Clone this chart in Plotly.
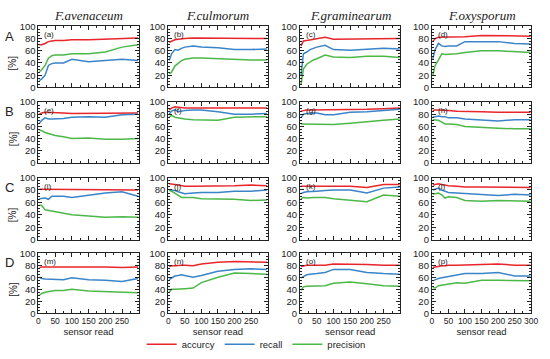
import plotly.graph_objects as go

W, H = 550, 359

sensor_read = [3, 10, 20, 30, 40, 50, 75, 100, 150, 200, 250, 298]

species = ["F.avenaceum", "F.culmorum", "F.graminearum", "F.oxysporum"]
row_labels = ["A", "B", "C", "D"]
panel_labels = ["(a)", "(b)", "(c)", "(d)", "(e)", "(f)", "(g)", "(h)",
                "(i)", "(j)", "(k)", "(l)", "(m)", "(n)", "(o)", "(p)"]
x_ticks = [0, 50, 100, 150, 200, 250]
x_ticks_last = [0, 50, 100, 150, 200, 250, 300]
y_ticks = [0, 20, 40, 60, 80, 100]

# accuracy / recall / precision per panel (a..p)
accuracy_a = [70, 70, 72, 75, 76, 77, 77, 78, 78, 79, 81, 81]
recall_a = [11, 14, 20, 36, 39, 40, 40, 46, 42, 44, 46, 44]
precision_a = [26, 29, 36, 48, 52, 53, 53, 55, 55, 58, 66, 70]

accuracy_b = [74, 76, 78, 79, 80, 80, 81, 81, 81, 80, 80, 80]
recall_b = [44, 55, 62, 61, 64, 66, 68, 66, 65, 62, 62, 63]
precision_b = [22, 25, 35, 40, 44, 46, 48, 48, 47, 45, 45, 45]

accuracy_c = [68, 76, 77, 78, 79, 80, 82, 79, 79, 79, 80, 80]
recall_c = [20, 55, 58, 62, 64, 66, 69, 62, 61, 62, 64, 63]
precision_c = [5, 30, 38, 42, 45, 47, 53, 50, 49, 51, 51, 49]

accuracy_d = [75, 80, 82, 82, 83, 83, 83, 83, 85, 85, 84, 84]
recall_d = [47, 62, 72, 68, 67, 68, 68, 75, 75, 75, 72, 71]
precision_d = [20, 36, 45, 55, 54, 54, 55, 57, 60, 60, 59, 57]

accuracy_e = [80, 82, 83, 83, 82, 82, 82, 81, 81, 82, 82, 82]
recall_e = [65, 70, 74, 72, 72, 72, 73, 75, 76, 75, 79, 80]
precision_e = [54, 53, 50, 48, 47, 45, 43, 40, 41, 39, 39, 40]

accuracy_f = [87, 90, 92, 91, 90, 90, 90, 90, 90, 90, 90, 90]
recall_f = [80, 85, 87, 84, 85, 86, 87, 87, 84, 80, 80, 81]
precision_f = [75, 78, 75, 74, 73, 72, 71, 71, 70, 75, 76, 76]

accuracy_g = [85, 86, 87, 87, 87, 87, 87, 87, 88, 88, 89, 90]
recall_g = [74, 80, 81, 82, 82, 82, 79, 79, 83, 84, 86, 88]
precision_g = [64, 64, 63, 64, 63, 63, 63, 63, 65, 68, 70, 72]

accuracy_h = [86, 87, 87, 87, 86, 86, 85, 85, 84, 83, 83, 83]
recall_h = [75, 76, 77, 76, 76, 74, 74, 72, 70, 69, 71, 71]
precision_h = [71, 71, 70, 67, 64, 64, 63, 60, 58, 57, 56, 56]

accuracy_i = [81, 81, 81, 81, 81, 81, 81, 81, 81, 81, 81, 80]
recall_i = [66, 66, 67, 65, 70, 70, 70, 68, 72, 75, 77, 70]
precision_i = [56, 55, 48, 47, 45, 44, 42, 40, 38, 36, 37, 36]

accuracy_j = [90, 90, 89, 88, 87, 86, 86, 86, 87, 87, 88, 87]
recall_j = [80, 80, 79, 77, 75, 74, 75, 76, 76, 78, 78, 80]
precision_j = [79, 78, 75, 71, 68, 68, 68, 66, 66, 65, 63, 64]

accuracy_k = [86, 86, 87, 87, 87, 87, 87, 87, 86, 84, 89, 89]
recall_k = [74, 76, 77, 77, 77, 78, 79, 80, 80, 75, 83, 85]
precision_k = [66, 68, 67, 68, 68, 68, 68, 66, 63, 61, 72, 70]

accuracy_l = [88, 89, 90, 89, 88, 87, 86, 85, 85, 85, 85, 84]
recall_l = [80, 81, 83, 80, 78, 76, 75, 74, 72, 71, 73, 72]
precision_l = [73, 74, 75, 72, 67, 69, 68, 63, 62, 63, 63, 62]

accuracy_m = [76, 77, 77, 77, 77, 77, 77, 78, 77, 77, 76, 77]
recall_m = [60, 58, 57, 57, 57, 57, 56, 59, 56, 55, 53, 58]
precision_m = [30, 33, 35, 36, 37, 38, 38, 40, 37, 36, 34, 34]

accuracy_n = [78, 79, 79, 80, 80, 80, 79, 82, 85, 86, 86, 85]
recall_n = [56, 58, 62, 63, 64, 63, 60, 63, 70, 73, 74, 73]
precision_n = [35, 40, 40, 40, 40, 41, 42, 51, 60, 67, 66, 65]

accuracy_o = [78, 79, 80, 80, 80, 80, 80, 82, 82, 81, 80, 80]
recall_o = [59, 61, 64, 65, 66, 66, 68, 73, 73, 68, 66, 65]
precision_o = [38, 44, 45, 45, 45, 45, 46, 50, 52, 49, 46, 45]

accuracy_p = [76, 77, 78, 79, 79, 80, 80, 80, 81, 82, 80, 80]
recall_p = [54, 56, 58, 59, 60, 61, 64, 66, 66, 68, 62, 62]
precision_p = [43, 42, 46, 47, 48, 49, 51, 50, 55, 55, 55, 54]

accuracy = [accuracy_a, accuracy_b, accuracy_c, accuracy_d, accuracy_e, accuracy_f,
            accuracy_g, accuracy_h, accuracy_i, accuracy_j, accuracy_k, accuracy_l,
            accuracy_m, accuracy_n, accuracy_o, accuracy_p]
recall = [recall_a, recall_b, recall_c, recall_d, recall_e, recall_f, recall_g,
          recall_h, recall_i, recall_j, recall_k, recall_l, recall_m, recall_n,
          recall_o, recall_p]
precision = [precision_a, precision_b, precision_c, precision_d, precision_e,
             precision_f, precision_g, precision_h, precision_i, precision_j,
             precision_k, precision_l, precision_m, precision_n, precision_o,
             precision_p]

series_names = ["accurcy", "recall", "precision"]
colors = ["#e8262b", "#3a84c9", "#4cb848"]

# layout geometry (pixels)
col_px = [(37, 139), (169, 270), (303, 405), (437, 538)]
row_px = [(21, 84), (99, 162), (177, 241), (255, 317)]

FONT = "Liberation Sans, Arial, sans-serif"
TICK = 8.5

fig = go.Figure()
annotations = []
layout_axes = {}

for r in range(4):
    for c in range(4):
        i = r * 4 + c
        n = i + 1
        xa = "xaxis" if n == 1 else f"xaxis{n}"
        ya = "yaxis" if n == 1 else f"yaxis{n}"
        xr = "x" if n == 1 else f"x{n}"
        yr = "y" if n == 1 else f"y{n}"
        for s, (vals, name, col) in enumerate(zip([accuracy[i], recall[i], precision[i]],
                                                  series_names, colors)):
            fig.add_trace(go.Scatter(
                x=sensor_read, y=vals, mode="lines", name=name,
                line=dict(color=col, width=1.5),
                xaxis=xr, yaxis=yr, showlegend=(i == 0), legendrank=s,
                hoverinfo="skip"))
        x0, x1 = col_px[c]
        y0, y1 = row_px[r]
        bottom = r == 3
        layout_axes[xa] = dict(
            domain=[x0 / W, x1 / W], anchor=yr, range=[0, 300],
            showline=True, linecolor="#222", linewidth=1, mirror="allticks",
            ticks="inside", ticklen=4, tickcolor="#222", tickwidth=1,
            tickvals=(x_ticks_last if c == 3 else x_ticks), tickangle=0,
            showticklabels=bottom, showgrid=False, zeroline=False,
            ticklabeloverflow="allow",
            minor=dict(dtick=25, ticks="inside", ticklen=2, tickcolor="#222"),
            tickfont=dict(family=FONT, size=TICK, color="#222"),
            title=dict(text="sensor read" if bottom else "",
                       font=dict(family=FONT, size=9.5, color="#222"), standoff=1),
        )
        layout_axes[ya] = dict(
            domain=[1 - y1 / H, 1 - y0 / H], anchor=xr, range=[0, 100],
            showline=True, linecolor="#222", linewidth=1, mirror="allticks",
            ticks="inside", ticklen=4, tickcolor="#222", tickwidth=1,
            tickvals=y_ticks, showgrid=False, zeroline=False,
            minor=dict(dtick=5, ticks="inside", ticklen=2, tickcolor="#222"),
            tickfont=dict(family=FONT, size=9.5, color="#222"),
        )
        annotations.append(dict(
            text=panel_labels[i], x=(x0 + 4) / W, y=1 - (y0 + 2) / H,
            xref="paper", yref="paper", xanchor="left", yanchor="top",
            showarrow=False, font=dict(family=FONT, size=8, color="#222")))

for c in range(4):
    x0, x1 = col_px[c]
    annotations.append(dict(
        text=f"<i>{species[c]}</i>", x=(x0 + x1) / 2 / W, y=1 - 10 / H,
        xref="paper", yref="paper", xanchor="center", yanchor="middle",
        showarrow=False, font=dict(family="Liberation Serif, Times New Roman, serif",
                                   size=13, color="#222")))

for r in range(4):
    y0, y1 = row_px[r]
    annotations.append(dict(
        text=row_labels[r], x=8 / W, y=1 - (y0 + 10) / H,
        xref="paper", yref="paper", xanchor="center", yanchor="middle",
        showarrow=False, font=dict(family=FONT, size=13, color="#222")))
    annotations.append(dict(
        text="[%]", x=11 / W, y=1 - ((y0 + y1) / 2 + 6) / H,
        xref="paper", yref="paper", xanchor="center", yanchor="middle",
        textangle=-90, showarrow=False, font=dict(family=FONT, size=10, color="#222")))

fig.update_layout(
    width=W, height=H, margin=dict(l=0, r=0, t=0, b=0),
    paper_bgcolor="white", plot_bgcolor="white",
    annotations=annotations,
    showlegend=True,
    legend=dict(orientation="h", x=142 / W, y=1 - 349 / H, xanchor="left",
                yanchor="middle", font=dict(family=FONT, size=9.5, color="#222"),
                itemwidth=30, bgcolor="rgba(0,0,0,0)",
                tracegroupgap=0),
    **layout_axes,
)

fig.write_html("out.html",
               config={"displayModeBar": False},
               post_script="document.body.style.margin='0px';")
